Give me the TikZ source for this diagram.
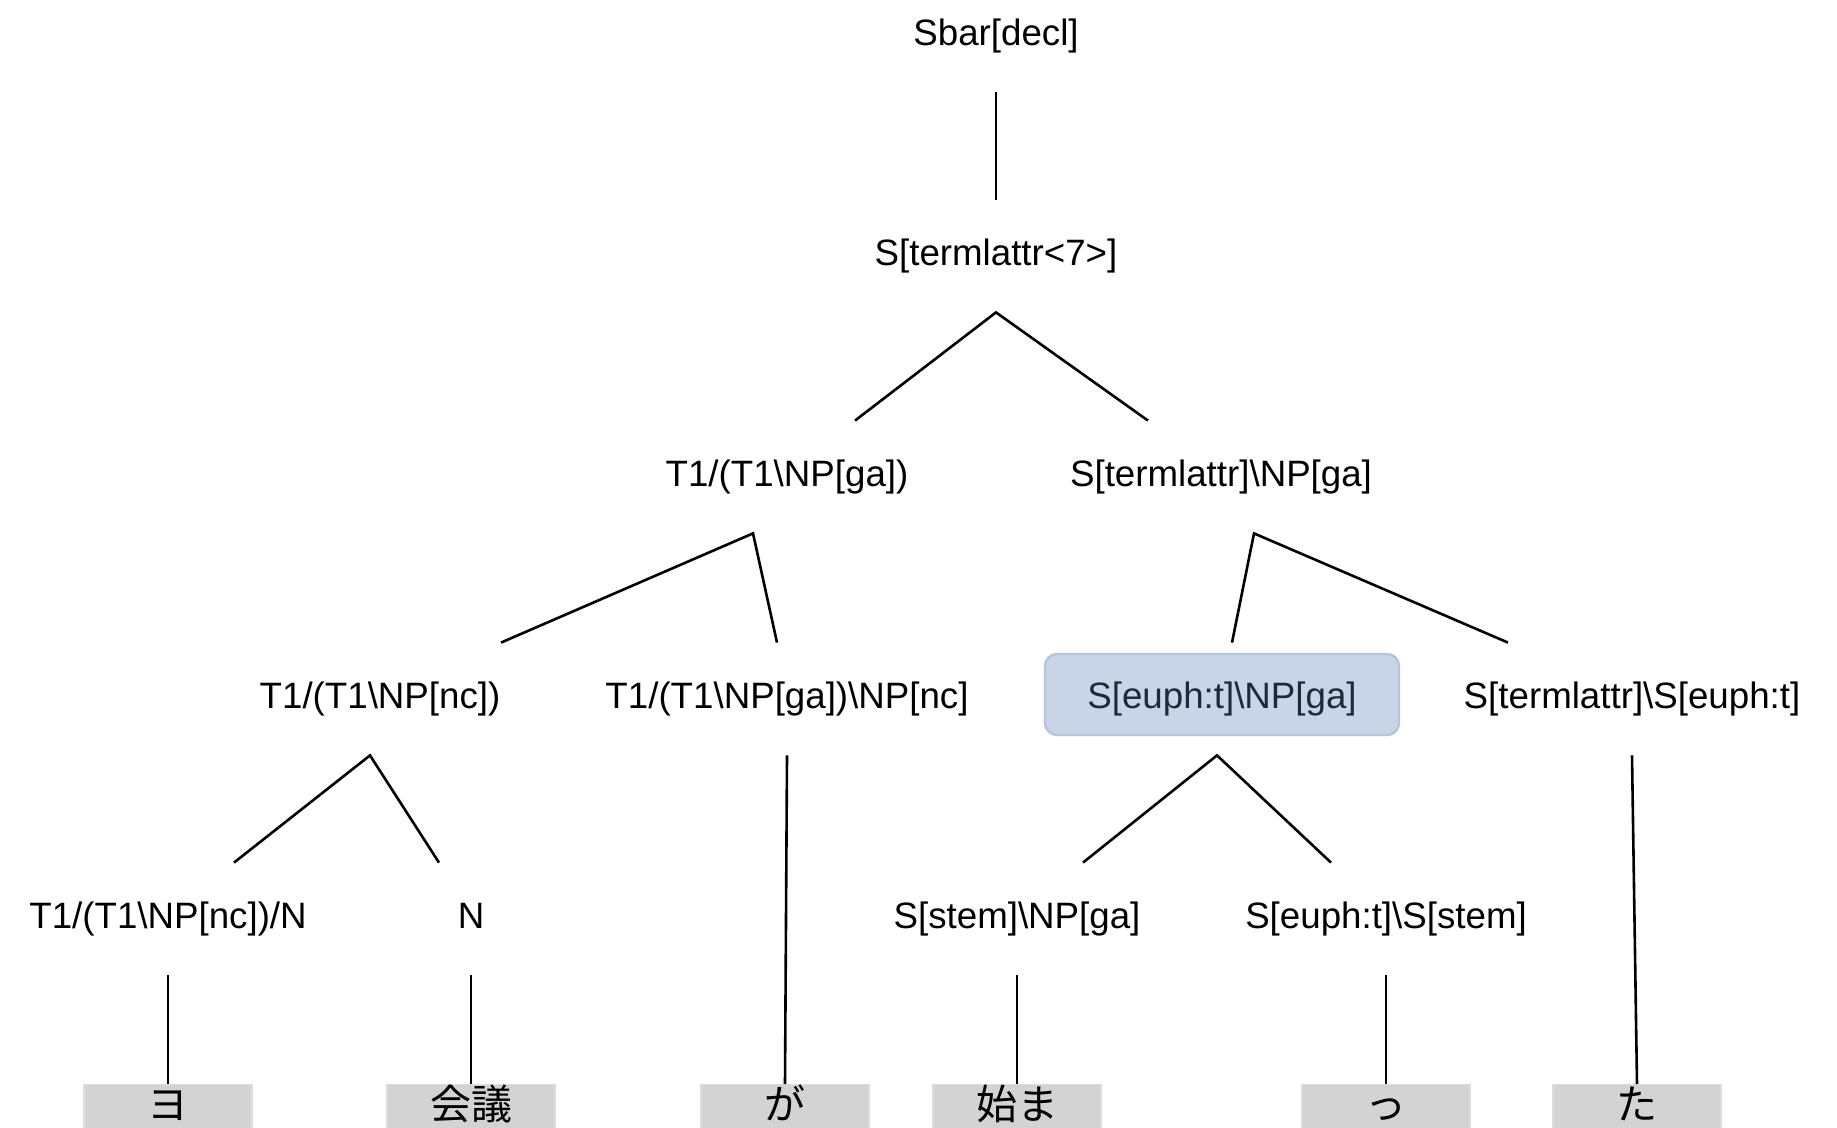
\documentclass[tikz,border=0pt]{standalone}
\usepackage{fontspec}
\setmainfont{Liberation Sans}
\newfontfamily\jpfont{Noto Sans CJK JP}
\usetikzlibrary{calc}
\definecolor{leafgray}{HTML}{D3D3D3}
\definecolor{leafedge}{HTML}{DDDDDD}
\definecolor{hlfill}{HTML}{C9D4E7}
\definecolor{hledge}{HTML}{B4C5DC}
\definecolor{hltext}{HTML}{1E2A3A}

\begin{document}
\begin{tikzpicture}[x=0.5pt,y=-0.5pt,
  cat/.style={inner xsep=0pt, inner ysep=15pt, text height=17.6pt, text depth=8.4pt,
              font=\fontsize{18.35}{22}\selectfont},
  leaf/.style={anchor=north, fill=leafgray, draw=leafedge, line width=0.6pt,
               minimum width=84pt, inner xsep=0pt, inner ysep=1pt,
               text height=16.3pt, text depth=12pt, font=\fontsize{20.5}{24}\jpfont},
  hlbox/.style={fill=hlfill, draw=hledge, line width=1.2pt, rounded corners=6pt,
                minimum width=177pt, minimum height=40.5pt, inner sep=0pt},
  link/.style={line width=1.3pt, miter limit=10}
]
\useasboundingbox[fill=white] (0,0) rectangle (1837,1128);

% categories, level by level
\node[cat] (sbar)   at (996,36)  {Sbar[decl]};
\node[cat] (s7)     at (996,256) {S[termlattr<7>]};
\node[cat] (t1ga)   at (787,477) {T1/(T1\textbackslash NP[ga])};
\node[cat] (sta)    at (1221,477) {S[termlattr]\textbackslash NP[ga]};
\node[cat] (t1nc)   at (380,699) {T1/(T1\textbackslash NP[nc])};
\node[cat] (t1ganc) at (787,699) {T1/(T1\textbackslash NP[ga])\textbackslash NP[nc]};
\node[hlbox] (hl)   at (1222,694.5) {};
\node[cat, text=hltext] (seuphnp) at (1222,699) {S[euph:t]\textbackslash NP[ga]};
\node[cat] (stas)   at (1632,699) {S[termlattr]\textbackslash S[euph:t]};
\node[cat] (t1ncn)  at (168,919)  {T1/(T1\textbackslash NP[nc])/N};
\node[cat] (nn)     at (471,919)  {N};
\node[cat] (sstem)  at (1017,919) {S[stem]\textbackslash NP[ga]};
\node[cat] (seuphs) at (1386,919) {S[euph:t]\textbackslash S[stem]};

% words
\node[leaf] (yo)     at (168,1084)  {ヨ};
\node[leaf] (kaigi)  at (471,1084)  {会議};
\node[leaf] (ga)     at (785,1084)  {が};
\node[leaf] (hajima) at (1017,1084) {始ま};
\node[leaf] (tsu)    at (1386,1084) {っ};
\node[leaf] (ta)     at (1637,1084) {た};

% branches
\draw[link] (sbar.south) -- (s7.north);
\draw[link] ($(t1ga.north)+(68,0)$) -- (s7.south) -- ($(sta.north)+(-73,0)$);
\draw[link] ($(t1nc.north)+(121,0)$) -- ($(t1ga.south)+(-34,0)$) -- ($(t1ganc.north)+(-10,0)$);
\draw[link] ($(seuphnp.north)+(10,0)$) -- ($(sta.south)+(33,0)$) -- ($(stas.north)+(-124,0)$);
\draw[link] ($(t1ncn.north)+(66,0)$) -- ($(t1nc.south)+(-10,0)$) -- ($(nn.north)+(-32,0)$);
\draw[link] ($(sstem.north)+(66,0)$) -- ($(seuphnp.south)+(-5,0)$) -- ($(seuphs.north)+(-55,0)$);
\draw[link] (t1ganc.south) -- (ga.north);
\draw[link] (stas.south) -- (ta.north);
\draw[link] (t1ncn.south) -- (yo.north);
\draw[link] (nn.south) -- (kaigi.north);
\draw[link] (sstem.south) -- (hajima.north);
\draw[link] (seuphs.south) -- (tsu.north);
\end{tikzpicture}
\end{document}
